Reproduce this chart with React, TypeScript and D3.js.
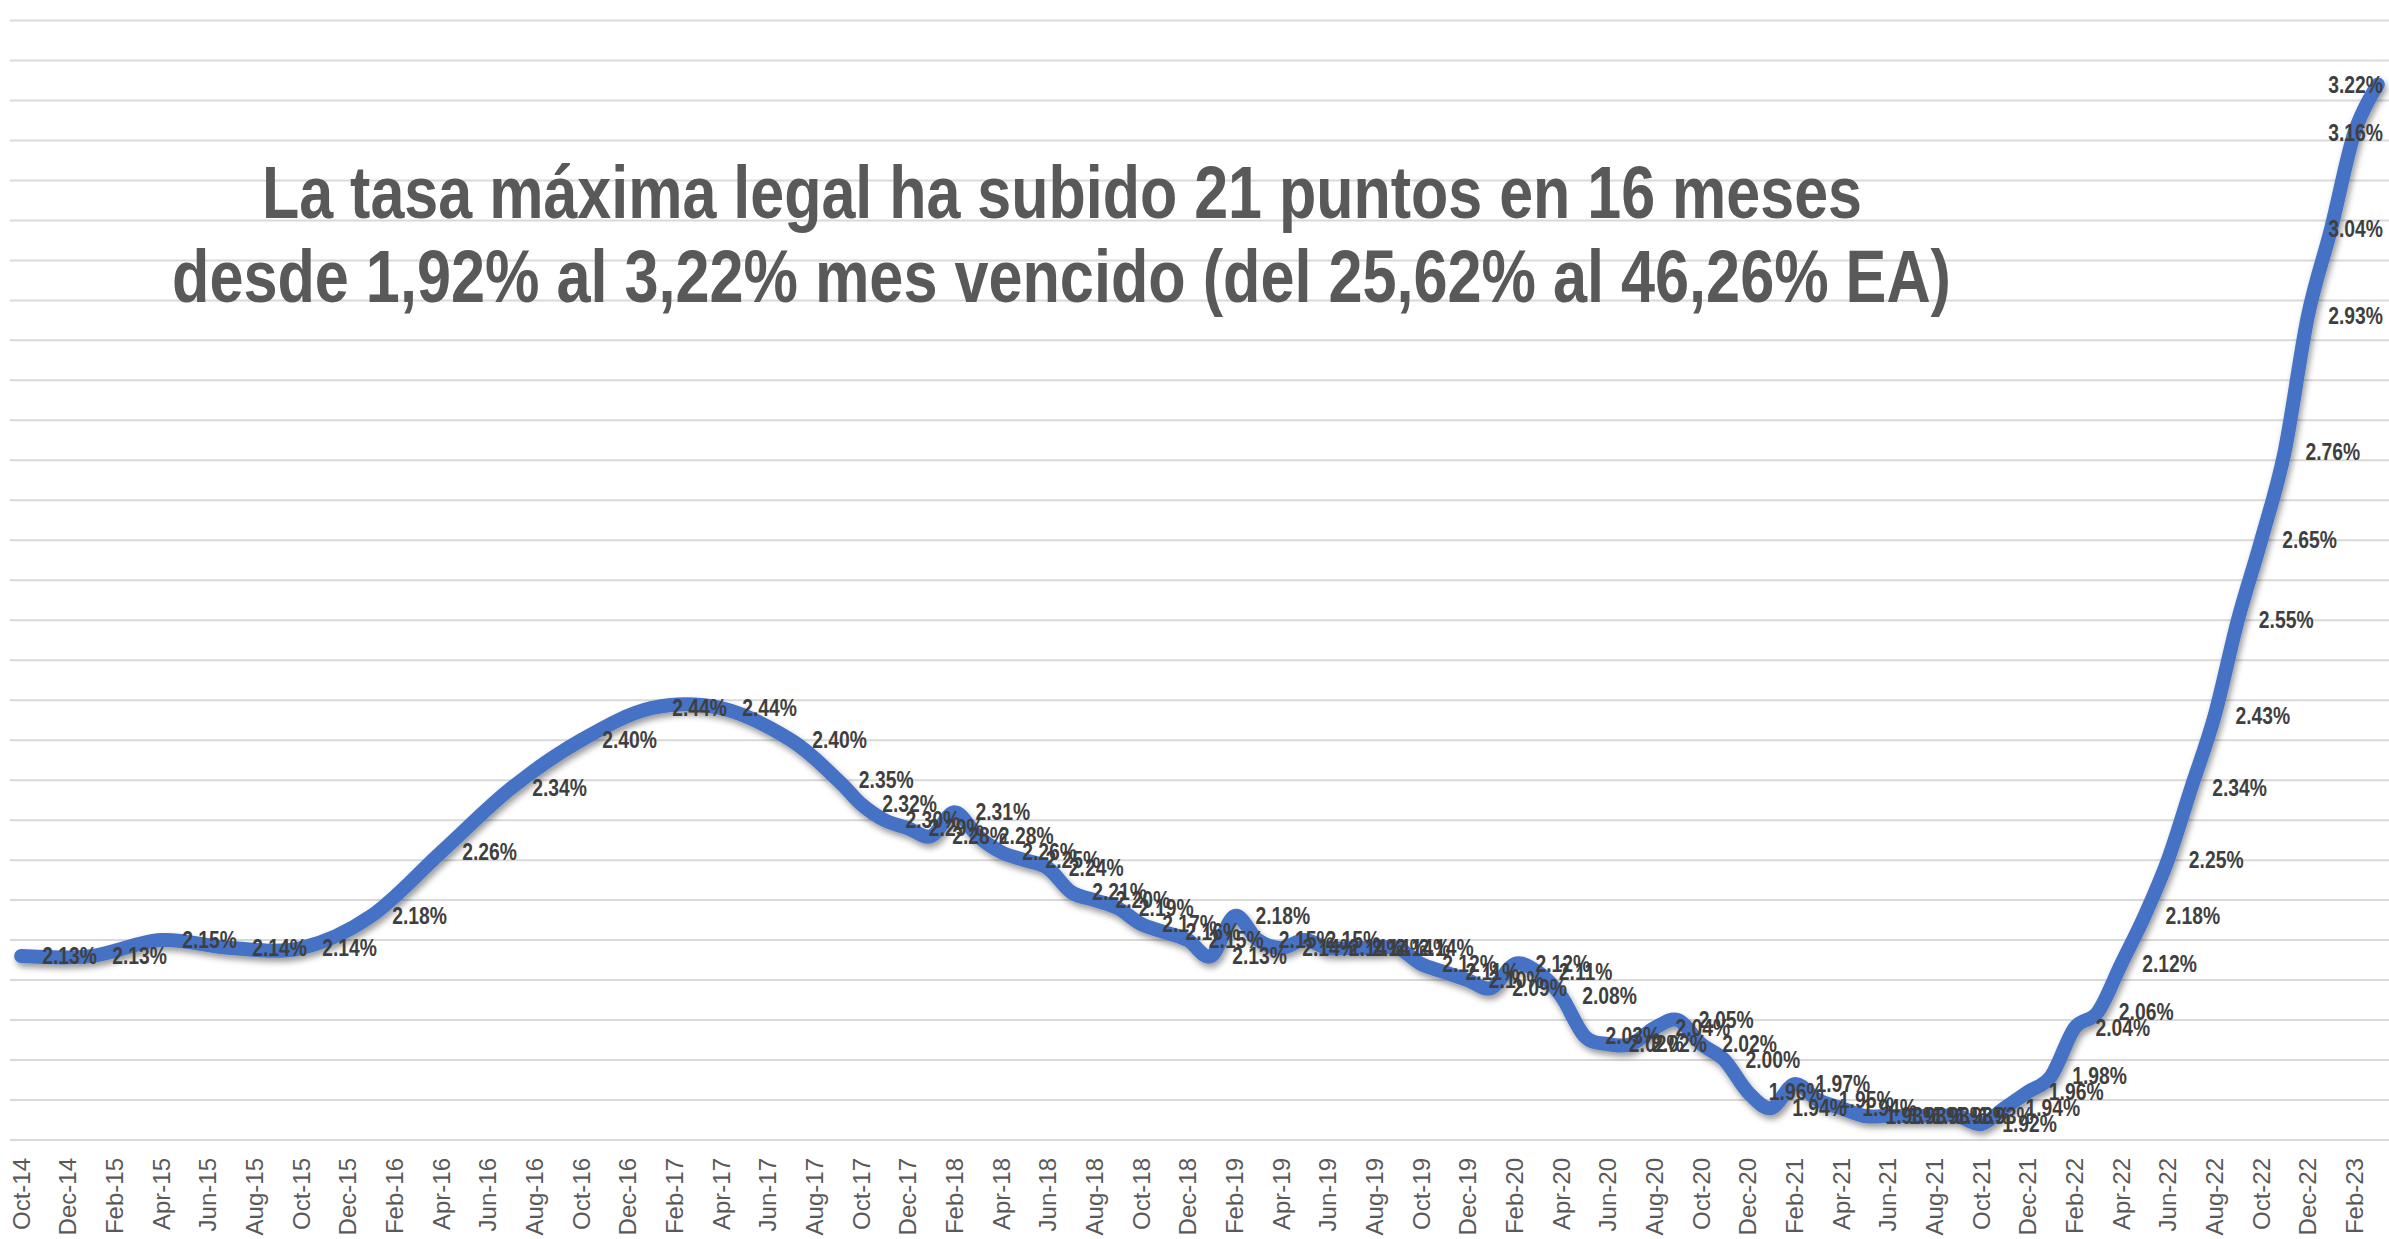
import React from "react";
import * as d3 from "d3";

const WIDTH = 2389;
const HEIGHT = 1239;

// fechas de cada dato (trimestral hasta jul-17, luego mensual)
const pointDates = [
  "Oct-14", "Jan-15", "Apr-15", "Jul-15", "Oct-15", "Jan-16", "Apr-16", "Jul-16",
  "Oct-16", "Jan-17", "Apr-17", "Jul-17",
  "Sep-17", "Oct-17", "Nov-17", "Dec-17",
  "Jan-18", "Feb-18", "Mar-18", "Apr-18", "May-18", "Jun-18", "Jul-18", "Aug-18", "Sep-18", "Oct-18", "Nov-18", "Dec-18",
  "Jan-19", "Feb-19", "Mar-19", "Apr-19", "May-19", "Jun-19", "Jul-19", "Aug-19", "Sep-19", "Oct-19", "Nov-19", "Dec-19",
  "Jan-20", "Feb-20", "Mar-20", "Apr-20", "May-20", "Jun-20", "Jul-20", "Aug-20", "Sep-20", "Oct-20", "Nov-20", "Dec-20",
  "Jan-21", "Feb-21", "Mar-21", "Apr-21", "May-21", "Jun-21", "Jul-21", "Aug-21", "Sep-21", "Oct-21", "Nov-21", "Dec-21",
  "Jan-22", "Feb-22", "Mar-22", "Apr-22", "May-22", "Jun-22", "Jul-22", "Aug-22", "Sep-22", "Oct-22", "Nov-22", "Dec-22",
  "Jan-23", "Feb-23", "Mar-23",
];

// tasa máxima legal, % mes vencido
const rates = [
  2.13, 2.13, 2.15, 2.14, 2.14, 2.18, 2.26, 2.34,
  2.40, 2.44, 2.44, 2.40,
  2.35, 2.32, 2.30, 2.29,
  2.28, 2.31, 2.28, 2.26, 2.25, 2.24, 2.21, 2.20, 2.19, 2.17, 2.16, 2.15,
  2.13, 2.18, 2.15, 2.14, 2.15, 2.14, 2.14, 2.14, 2.14, 2.12, 2.11, 2.10,
  2.09, 2.12, 2.11, 2.08, 2.03, 2.02, 2.02, 2.04, 2.05, 2.02, 2.00, 1.96,
  1.94, 1.97, 1.95, 1.94, 1.93, 1.93, 1.93, 1.93, 1.93, 1.92, 1.94, 1.96,
  1.98, 2.04, 2.06, 2.12, 2.18, 2.25, 2.34, 2.43, 2.55, 2.65, 2.76, 2.93,
  3.04, 3.16, 3.22,
];

const titleLines = [
  "La tasa máxima legal ha subido 21 puntos en 16 meses",
  "desde 1,92% al 3,22% mes vencido (del 25,62% al 46,26% EA)",
];

const yDomain = [1.9, 3.3];
const yStep = 0.05;

const parse = d3.timeParse("%b-%y");
const fmt = d3.timeFormat("%b-%y");

export default function App() {
  const plotLeft = 9.5;
  const plotRight = 2389.5;
  const plotTop = 20.5;
  const plotBottom = 1140;

  const months = d3.timeMonth.range(new Date(2014, 9, 1), new Date(2023, 3, 1));
  const x = d3
    .scaleBand<string>()
    .domain(months.map(fmt))
    .range([plotLeft, plotRight])
    .paddingInner(0)
    .paddingOuter(0);
  const xc = (key: string) => (x(key) ?? 0) + x.bandwidth() / 2;

  const y = d3.scaleLinear().domain(yDomain).range([plotBottom, plotTop]);
  const gridValues = d3.range(yDomain[0], yDomain[1] + yStep / 2, yStep);

  const data = pointDates.map((d, i) => ({ key: fmt(parse(d) as Date), value: rates[i] }));

  const line = d3
    .line<{ key: string; value: number }>()
    .x((d) => xc(d.key))
    .y((d) => y(d.value))
    .curve(d3.curveCardinal.tension(0));

  const tickKeys = months.filter((_, i) => i % 2 === 0).map(fmt);

  // etiquetas en negrita algo estrechas, como Arial Narrow
  const labelScale = 0.84;
  const labelSize = 23;
  const labelW = 2.835 * labelSize * labelScale;
  const labelRightMax = 2383;

  return (
    <div style={{ width: WIDTH, height: HEIGHT, background: "#fff" }}>
      <style>{`body{margin:0;background:#fff}`}</style>
      <svg width={WIDTH} height={HEIGHT} style={{ display: "block" }}>
        <defs>
          <filter id="shadow" x="-5%" y="-5%" width="110%" height="115%">
            <feDropShadow dx="2" dy="4" stdDeviation="3" floodColor="#000" floodOpacity="0.4" />
          </filter>
        </defs>
        <rect width={WIDTH} height={HEIGHT} fill="#fff" />

        {gridValues.map((v) => (
          <line
            key={v.toFixed(2)}
            x1={10}
            x2={WIDTH}
            y1={y(v)}
            y2={y(v)}
            stroke="#d9d9d9"
            strokeWidth={2}
          />
        ))}

        {titleLines.map((t, i) => (
          <text
            key={t}
            x={i === 0 ? 262 : 172}
            y={i === 0 ? 218 : 302}
            textLength={i === 0 ? 1600 : 1779}
            lengthAdjust="spacingAndGlyphs"
            fontFamily="'Liberation Sans Narrow', 'Liberation Sans', Arial, sans-serif"
            fontWeight="bold"
            fontSize={74}
            fill="#595959"
          >
            {t}
          </text>
        ))}

        <path
          d={line(data) ?? ""}
          fill="none"
          stroke="#4472C4"
          strokeWidth={14}
          strokeLinecap="round"
          strokeLinejoin="round"
          filter="url(#shadow)"
        />

        {data.map((d, i) => {
          const px = xc(d.key);
          const py = y(d.value);
          let lx = px + 21;
          if (lx + labelW > labelRightMax) lx = labelRightMax - labelW;
          return (
            <text
              key={i}
              transform={`translate(${lx},${py}) scale(${labelScale},1)`}
              dominantBaseline="central"
              fontFamily="'Liberation Sans', Arial, sans-serif"
              fontWeight="bold"
              fontSize={labelSize}
              fill="#3f3f3f"
            >
              {d.value.toFixed(2) + "%"}
            </text>
          );
        })}

        {tickKeys.map((k) => (
          <text
            key={k}
            transform={`translate(${xc(k)},1158) rotate(-90)`}
            textAnchor="end"
            dominantBaseline="central"
            fontFamily="'Liberation Sans', Arial, sans-serif"
            fontSize={24}
            fill="#595959"
          >
            {k}
          </text>
        ))}
      </svg>
    </div>
  );
}
